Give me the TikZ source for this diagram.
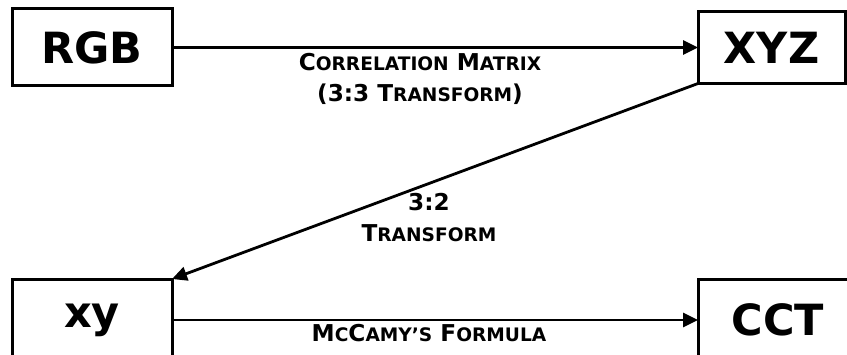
\documentclass[tikz,border=0pt]{standalone}
\usepackage{fontspec}
\setmainfont{DejaVu Sans}
\usetikzlibrary{arrows.meta, positioning}

% lowered letters of the small caps labels
\newcommand\lc[1]{{\fontsize{18.6}{20}\selectfont #1}}

\begin{document}
\begin{tikzpicture}[x=1pt, y=1pt,
  box/.style={rectangle, draw=black, line width=3pt, outer sep=0pt,
              minimum width=160pt, minimum height=77pt,
              font=\fontsize{43}{48}\selectfont\bfseries},
  lbl/.style={align=center, font=\fontsize{23.2}{31}\selectfont\bfseries},
  flow/.style={-{Triangle[length=15pt, width=14pt]}, line width=2.8pt}
]
  \useasboundingbox (0,0) rectangle (847,354);
  \clip (0,0) rectangle (847,354);

  \node[box] (rgb) at (92,306.5) {RGB};
  \node[box, minimum width=147pt, minimum height=72pt, right=526pt of rgb] (xyz) {XYZ};
  \node[box, minimum height=82pt, below=193pt of rgb] (xy) {xy};
  \node[box, minimum height=82pt, right=526pt of xy] (cct) {CCT};

  \draw[flow] (rgb) -- (xyz);
  \draw[flow] (xyz.south west) -- (xy.north east);
  \draw[flow] (xy) -- (cct);

  \node[lbl] (lcm) at (420,275) {C\lc{ORRELATION} M\lc{ATRIX}\\(3:3 T\lc{RANSFORM})};
  \node[lbl] (l32) at (429,136) {3:2\\T\lc{RANSFORM}};
  \node[lbl] (lmc) at (429,21) {M\lc{C}C\lc{AMY'S} F\lc{ORMULA}};
\end{tikzpicture}
\end{document}
